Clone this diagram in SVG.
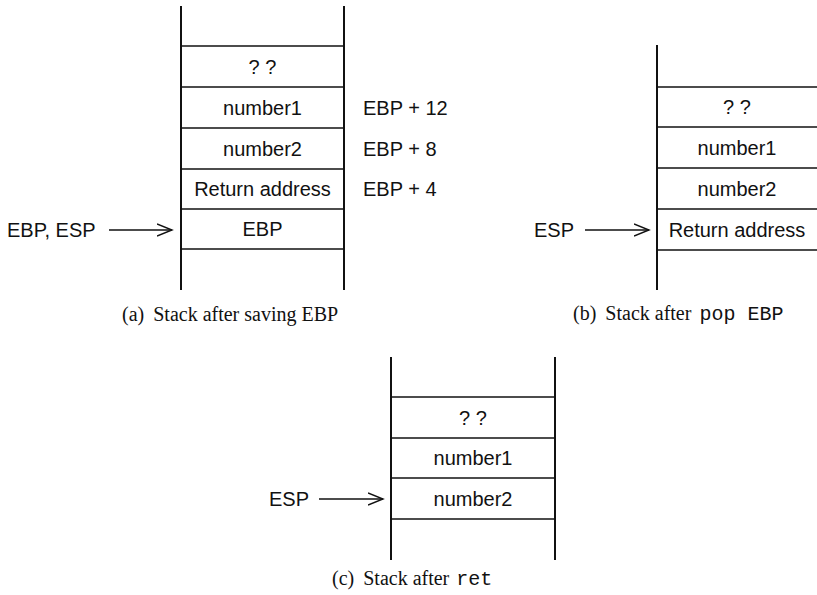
<svg xmlns="http://www.w3.org/2000/svg" width="817" height="595" viewBox="0 0 817 595">
<defs>
<style>
.v{stroke:#111;stroke-width:2;fill:none}
.h{stroke:#111;stroke-width:1.5;fill:none}
.t{font-family:"Liberation Sans",Arial,sans-serif;font-size:20px;fill:#111}
.c{text-anchor:middle}
.cap{font-family:"Liberation Serif","Times New Roman",serif;font-size:20px;fill:#111}
.mono{font-family:"Liberation Mono","Courier New",monospace;font-size:20px}
.arr{stroke:#111;stroke-width:1.3;fill:none;marker-end:url(#ah)}
</style>
<marker id="ah" markerUnits="userSpaceOnUse" markerWidth="18" markerHeight="14" refX="15" refY="7" orient="auto">
<path d="M0,1 L15,7 L0,13" fill="none" stroke="#111" stroke-width="1.4"/>
</marker>
</defs>
<rect width="817" height="595" fill="#fff"/>

<g id="stack-a">
<line class="v" x1="181" y1="6" x2="181" y2="290"/>
<line class="v" x1="344" y1="6" x2="344" y2="290"/>
<line class="h" x1="181" y1="46" x2="344" y2="46"/>
<line class="h" x1="181" y1="87" x2="344" y2="87"/>
<line class="h" x1="181" y1="128" x2="344" y2="128"/>
<line class="h" x1="181" y1="169" x2="344" y2="169"/>
<line class="h" x1="181" y1="209" x2="344" y2="209"/>
<line class="h" x1="181" y1="249" x2="344" y2="249"/>
<text class="t c" x="262.5" y="73.5">? ?</text>
<text class="t c" x="262.5" y="114.5">number1</text>
<text class="t c" x="262.5" y="155.5">number2</text>
<text class="t c" x="262.5" y="196">Return address</text>
<text class="t c" x="262.5" y="236">EBP</text>
<text class="t" x="363" y="114.5">EBP + 12</text>
<text class="t" x="363" y="155.5">EBP + 8</text>
<text class="t" x="363" y="196">EBP + 4</text>
<text class="t" x="7" y="237">EBP, ESP</text>
<text class="cap" x="122" y="321">(a) <tspan dx="4">Stack after saving EBP</tspan></text>
</g>

<g id="stack-b">
<line class="v" x1="657" y1="45" x2="657" y2="290"/>
<line class="h" x1="657" y1="87" x2="817" y2="87"/>
<line class="h" x1="657" y1="127" x2="817" y2="127"/>
<line class="h" x1="657" y1="168" x2="817" y2="168"/>
<line class="h" x1="657" y1="209" x2="817" y2="209"/>
<line class="h" x1="657" y1="250" x2="817" y2="250"/>
<text class="t c" x="737" y="114">? ?</text>
<text class="t c" x="737" y="154.5">number1</text>
<text class="t c" x="737" y="195.5">number2</text>
<text class="t c" x="737" y="236.5">Return address</text>
<text class="t" x="534" y="237">ESP</text>
<text class="cap" x="573" y="320">(b) <tspan dx="4">Stack after </tspan><tspan class="mono" dx="3">pop EBP</tspan></text>
</g>

<g id="stack-c">
<line class="v" x1="391" y1="357" x2="391" y2="560"/>
<line class="v" x1="555" y1="357" x2="555" y2="560"/>
<line class="h" x1="391" y1="397" x2="555" y2="397"/>
<line class="h" x1="391" y1="438" x2="555" y2="438"/>
<line class="h" x1="391" y1="478" x2="555" y2="478"/>
<line class="h" x1="391" y1="519" x2="555" y2="519"/>
<text class="t c" x="473" y="424.5">? ?</text>
<text class="t c" x="473" y="465">number1</text>
<text class="t c" x="473" y="505.5">number2</text>
<text class="t" x="269" y="506">ESP</text>
<text class="cap" x="332" y="585">(c) <tspan dx="4">Stack after </tspan><tspan class="mono" dx="2">ret</tspan></text>
</g>

<g id="connectors">
<line class="arr" x1="109" y1="230" x2="172" y2="230"/>
<line class="arr" x1="585" y1="230" x2="649" y2="230"/>
<line class="arr" x1="319" y1="499" x2="383" y2="499"/>
</g>
</svg>
